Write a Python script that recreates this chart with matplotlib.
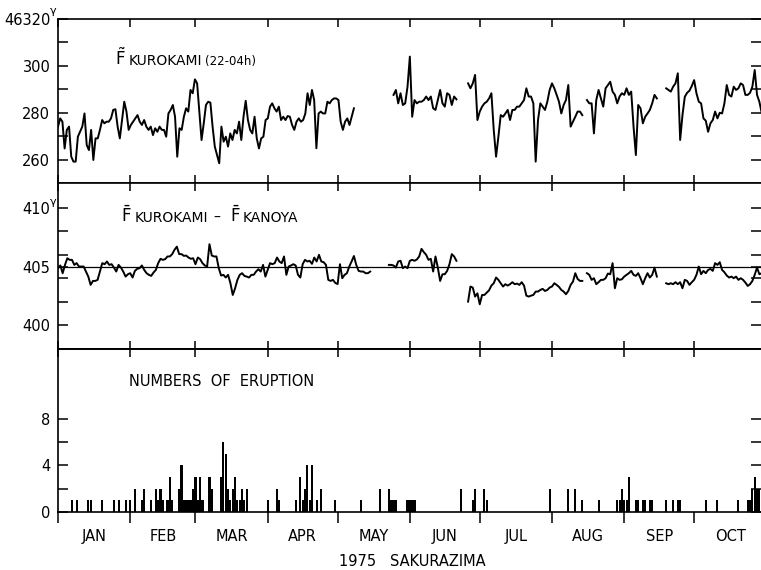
import numpy as np
import matplotlib
matplotlib.use('Agg')
import matplotlib.pyplot as plt

plt.rcParams['font.family'] = 'DejaVu Sans'

# day of year (Jan 1 = 0) where each month starts
month_starts = [0, 31, 59, 90, 120, 151, 181, 212, 243, 273, 304]
month_names = ['JAN', 'FEB', 'MAR', 'APR', 'MAY', 'JUN', 'JUL', 'AUG', 'SEP', 'OCT']

# --- F KUROKAMI (22-04h), gamma above 46000; five pieces between data gaps
kuro_first = [0, 144, 176, 227, 261]
kuro_last = [127, 171, 225, 257, 302]
kuro_1 = [274.2, 277.7, 276.3, 264.9, 272.8, 274.2, 261.4, 259.3, 259.3, 269.9,
          272.0, 274.2, 279.8, 266.4, 264.2, 272.8, 260.0, 269.2, 269.2, 272.8,
          277.0, 275.6, 276.3, 276.3, 277.7, 281.3, 281.6, 274.2, 269.2, 277.0,
          284.8, 280.6, 272.8, 274.9, 276.3, 277.7, 279.1, 276.3, 274.9, 277.0,
          274.2, 272.8, 274.2, 270.6, 273.5, 272.0, 274.2, 272.8, 272.8, 269.9,
          279.8, 281.3, 283.4, 278.4, 261.4, 273.5, 272.8, 278.4, 282.0, 280.6,
          289.8, 288.4, 294.3, 292.6, 280.6, 268.5, 275.6, 283.4, 284.8, 284.4,
          274.2, 265.7, 262.1, 258.6, 274.2, 267.8, 269.9, 265.7, 271.3, 268.5,
          272.8, 271.3, 276.3, 268.5, 278.4, 285.2, 277.0, 272.8, 271.3, 278.4,
          269.2, 264.9, 269.2, 269.9, 277.0, 277.7, 282.7, 284.1, 282.0, 280.6,
          282.7, 277.0, 278.4, 277.0, 278.7, 278.4, 274.9, 272.8, 276.3,
          277.7, 276.3, 277.0, 279.8, 288.4, 283.4, 289.8, 285.5, 265.0, 279.8,
          280.6, 279.8, 279.8, 284.8, 284.1, 285.5, 286.2, 286.2, 285.5, 276.3,
          272.8, 276.3, 277.7, 274.9, 278.4, 282.0]
kuro_2 = [287.7, 289.8, 284.1, 288.4, 283.4, 284.1, 291.2, 304.0, 278.4, 285.5,
          284.1, 284.8, 284.8, 285.5, 287.0, 285.5, 287.0, 282.0, 281.3, 285.5,
          289.8, 284.1, 282.7, 288.4, 287.7, 283.4, 287.0, 285.8]
kuro_3 = [292.6, 290.5, 292.6, 296.2, 277.0, 280.6, 282.7, 284.1, 284.8, 286.2,
          288.4, 272.8, 261.4, 269.9, 279.1, 278.4, 279.8, 281.3, 277.0, 281.3,
          281.3, 282.7, 282.7, 284.1, 285.5, 290.5, 287.0, 287.0, 284.1, 259.3,
          277.0, 284.1, 282.7, 281.3, 284.8, 289.8, 292.6, 290.5, 287.7, 284.8,
          279.8, 283.4, 285.5, 291.9, 274.2, 276.3, 278.4, 280.6, 280.6, 279.1]
kuro_4 = [285.5, 284.1, 284.1, 271.3, 285.5, 289.8, 286.2, 282.7, 290.5, 291.9,
          293.3, 289.1, 287.7, 284.1, 287.0, 288.4, 287.7, 290.5, 287.7, 289.1,
          274.2, 262.1, 283.4, 282.0, 275.6, 278.4, 279.8, 281.3, 284.1, 287.7,
          286.2]
kuro_5 = [290.5, 289.8, 289.1, 291.2, 292.6, 296.9, 268.5, 279.1, 286.9, 288.6,
          289.5, 291.5, 294.0, 288.4, 284.8, 284.1, 277.7, 276.7, 272.0, 275.6,
          277.0, 280.6, 277.7, 280.1, 279.8, 284.1, 291.9, 287.7, 287.0, 291.2,
          289.8, 290.5, 292.6, 291.9, 287.7, 287.7, 288.6, 291.2, 298.3, 287.7,
          284.8, 280.0]

# --- F KUROKAMI - F KANOYA
diff_first = [0, 142, 176, 227, 261]
diff_last = [134, 171, 225, 257, 302]
diff_1 = [404.86, 405.09, 404.43, 405.14, 405.71, 405.57, 405.57, 405.14, 405.29, 405.0,
          405.0, 405.0, 404.57, 404.14, 403.43, 403.77, 403.77, 403.86, 404.57, 405.29,
          405.2, 405.43, 405.14, 405.2, 404.91, 404.57, 405.14, 404.91, 404.57, 404.14,
          404.34, 404.43, 404.06, 404.63, 404.8, 404.86, 405.09, 404.71, 404.43, 404.29,
          404.2, 404.49, 404.71, 405.29, 405.66, 405.57, 405.63, 405.86, 405.86, 406.06,
          406.43, 406.7, 406.06, 406.06, 405.91, 405.94, 405.77, 405.66, 405.71, 405.2,
          405.77, 405.63, 405.29, 405.09, 405.0, 406.91, 405.94, 405.86, 405.86, 404.86,
          404.23, 404.29, 404.06, 404.29, 403.57, 402.57, 403.14, 403.86, 404.29, 404.43,
          404.2, 404.14, 404.06, 404.29, 404.29, 404.57, 404.77, 404.57, 405.14, 404.14,
          404.71, 405.29, 405.2, 405.29, 405.77, 405.43, 405.29, 405.86, 404.29, 405.0,
          405.09, 405.2,
          405.09, 404.29, 404.06, 405.2, 405.57, 405.43, 405.49, 405.23, 405.77, 405.43,
          406.0, 405.43, 405.37, 405.14, 403.86, 403.77, 403.86, 403.6, 403.5, 405.2,
          404.0, 404.29, 404.43, 405.0, 405.43, 405.9, 405.14, 404.63, 404.57, 404.57,
          404.43, 404.43, 404.57]
diff_2 = [405.14, 405.14, 405.09, 404.91, 405.43, 405.49, 404.86, 405.0, 404.86, 405.49,
          405.57, 405.49, 405.6, 405.86, 406.51, 406.23, 406.0, 405.57, 405.66, 404.57,
          405.86, 404.91, 403.77, 404.34, 404.34, 404.63, 405.2, 406.06, 405.86, 405.49]
diff_3 = [402.0, 403.29, 403.2, 402.43, 402.71, 401.77, 402.57, 402.57, 402.77, 402.97,
          403.37, 403.57, 404.06, 403.86, 403.57, 403.29, 403.49, 403.37, 403.49, 403.66,
          403.49, 403.54, 403.43, 403.66, 403.37, 402.51, 402.43, 402.51, 402.57, 402.86,
          402.86, 403.0, 403.09, 402.91, 403.0, 403.2, 403.29, 403.57, 403.43, 403.26,
          403.0, 402.86, 402.63, 402.91, 403.43, 403.71, 404.43, 403.94, 403.77, 403.77]
diff_4 = [404.43, 404.29, 403.86, 404.0, 403.49, 403.66, 403.86, 403.86, 404.0, 404.4,
          404.34, 405.29, 403.14, 404.0, 403.86, 403.91, 404.14, 404.29, 404.43, 404.63,
          404.29, 404.2, 404.43, 404.0, 403.49, 404.0, 404.43, 404.06, 404.29, 404.9,
          404.14]
diff_5 = [403.57, 403.49, 403.57, 403.49, 403.66, 403.49, 403.66, 403.14, 403.86, 403.77,
          403.43, 403.66, 403.86, 404.29, 405.0, 404.34, 404.63, 404.43, 404.71, 404.8,
          404.63, 405.29, 405.14, 405.37, 404.71, 404.51, 404.23, 404.06, 404.14, 404.0,
          404.14, 403.86, 404.0, 403.86, 403.63, 403.34, 403.49, 403.77, 404.29, 404.91,
          404.34, 404.43]

# --- numbers of eruption per day
erupt_day = [6, 8, 13, 14, 19, 24, 26, 29, 31,
             33, 36, 37, 40, 42, 43, 44, 45,
             47, 48, 49,
             52, 53, 54, 55, 56, 57, 58, 59, 60, 61, 62,
             65, 66,
             70, 71, 72, 73, 74, 75, 76, 77, 78, 79, 80, 81,
             90, 94, 95, 102, 104, 105, 106, 107, 108, 109, 111, 113, 119, 130, 138,
             142, 143, 144, 145, 150, 151, 152, 153, 173, 178, 179, 183, 184,
             211, 219, 222, 225, 232,
             240, 241, 242, 243, 244, 245, 248, 249, 251, 252, 254, 255,
             261, 264, 266, 267, 278, 283, 292,
             296, 297, 298, 299, 300, 301]
erupt_num = [1, 1, 1, 1, 1, 1, 1, 1, 1,
             2, 1, 2, 1, 2, 1, 2, 1,
             1, 3, 1,
             2, 4, 1, 1, 1, 1, 2, 3, 1, 3, 1,
             3, 2,
             3, 6, 5, 2, 1, 2, 3, 1, 1, 2, 1, 2,
             1, 2, 1, 1, 3, 1, 2, 4, 1, 4, 1, 2, 1, 1, 2,
             2, 1, 1, 1, 1, 1, 1, 1, 2, 1, 2, 2, 1,
             2, 2, 2, 1, 1,
             1, 1, 2, 1, 1, 3, 1, 1, 1, 1, 1, 1,
             1, 1, 1, 1, 1, 1, 1,
             1, 1, 2, 3, 2, 2]

kuro_parts = [kuro_1, kuro_2, kuro_3, kuro_4, kuro_5]
diff_parts = [diff_1, diff_2, diff_3, diff_4, diff_5]

fig = plt.figure(figsize=(7.61, 5.70), dpi=100)
L, W = 58 / 761, 703 / 761
ax1 = fig.add_axes([L, 1 - 183 / 570, W, 164 / 570])
ax2 = fig.add_axes([L, 1 - 349 / 570, W, 166 / 570])
ax3 = fig.add_axes([L, 1 - 512 / 570, W, 163 / 570])

XMAX = 301.7
lw = 1.4
for a, b, v in zip(kuro_first, kuro_last, kuro_parts):
    ax1.plot(np.linspace(a, b, len(v)), v, color='black', lw=lw)
for a, b, v in zip(diff_first, diff_last, diff_parts):
    ax2.plot(np.linspace(a, b, len(v)), v, color='black', lw=lw)
ax2.axhline(405, color='black', lw=0.9)
ax3.bar(erupt_day, erupt_num, width=0.9, color='black', align='center')

ax1.set_ylim(250.2, 320)
ax2.set_ylim(397.95, 412.14)
ax3.set_ylim(0, 14.02)

ax1.set_yticks([260, 280, 300, 320])
ax1.set_yticklabels(['260', '280', '300', '46320'])
ax1.set_yticks([270, 290, 310], minor=True)
ax2.set_yticks([400, 405, 410])
ax2.set_yticklabels(['400', '405', '410'])
ax2.set_yticks([402, 404, 406, 408], minor=True)
ax3.set_yticks([0, 4, 8])
ax3.set_yticklabels(['0', '4', '8'])
ax3.set_yticks([2, 6], minor=True)

for ax in (ax1, ax2, ax3):
    ax.set_xlim(0, XMAX)
    ax.set_xticks(month_starts[:-1])
    ax.spines['right'].set_visible(False)
    for s in ('left', 'top', 'bottom'):
        ax.spines[s].set_linewidth(1.2)
    ax.tick_params(axis='y', which='both', direction='in', length=7, width=1.1,
                   left=True, right=True, labelsize=10.5, pad=5.5)
    ax.tick_params(axis='x', which='major', direction='in', length=6, width=1.1,
                   top=True, bottom=True, labelbottom=False)

# bottom panel: ticks below the axis, month names between them
ax3.tick_params(axis='x', which='major', direction='out', top=False, length=8)
mids = [(a + b) / 2 for a, b in zip(month_starts[:-1], month_starts[1:])]
ax3.set_xticks(mids, minor=True)
ax3.set_xticklabels(month_names, minor=True)
ax3.tick_params(axis='x', which='minor', length=0, pad=12, labelsize=10.5)
sec = ax3.secondary_xaxis('top')
sec.set_xticks(month_starts[:-1])
sec.tick_params(direction='in', length=6, width=1.1, labeltop=False)
sec.spines['top'].set_linewidth(1.2)

# gamma unit marks next to the top labels
ax1.annotate('γ', xy=(0, 320), xycoords=('axes fraction', 'data'),
             xytext=(-6, 6), textcoords='offset points', fontsize=8,
             ha='left', va='center', annotation_clip=False)
ax2.annotate('γ', xy=(0, 410), xycoords=('axes fraction', 'data'),
             xytext=(-6, 4), textcoords='offset points', fontsize=8,
             ha='left', va='center', annotation_clip=False)

# panel captions
ax1.text(0.081, 0.72, r'$\tilde{\mathrm{F}}$', transform=ax1.transAxes, fontsize=12)
ax1.text(0.1, 0.72, 'KUROKAMI', transform=ax1.transAxes, fontsize=10)
ax1.text(0.209, 0.72, '(22-04h)', transform=ax1.transAxes, fontsize=8.5)
ax2.text(0.09, 0.765, r'$\bar{\mathrm{F}}$', transform=ax2.transAxes, fontsize=12)
ax2.text(0.109, 0.765, 'KUROKAMI', transform=ax2.transAxes, fontsize=10)
ax2.text(0.221, 0.765, '\u2013', transform=ax2.transAxes, fontsize=10)
ax2.text(0.244, 0.765, r'$\bar{\mathrm{F}}$', transform=ax2.transAxes, fontsize=12)
ax2.text(0.263, 0.765, 'KANOYA', transform=ax2.transAxes, fontsize=10)
ax3.text(0.101, 0.773, 'NUMBERS  OF  ERUPTION', transform=ax3.transAxes, fontsize=10.5)

fig.text(412 / 761, 1 - 561 / 570, '1975   SAKURAZIMA', ha='center', va='center',
         fontsize=10.5)

fig.savefig('out.png', dpi=100)
